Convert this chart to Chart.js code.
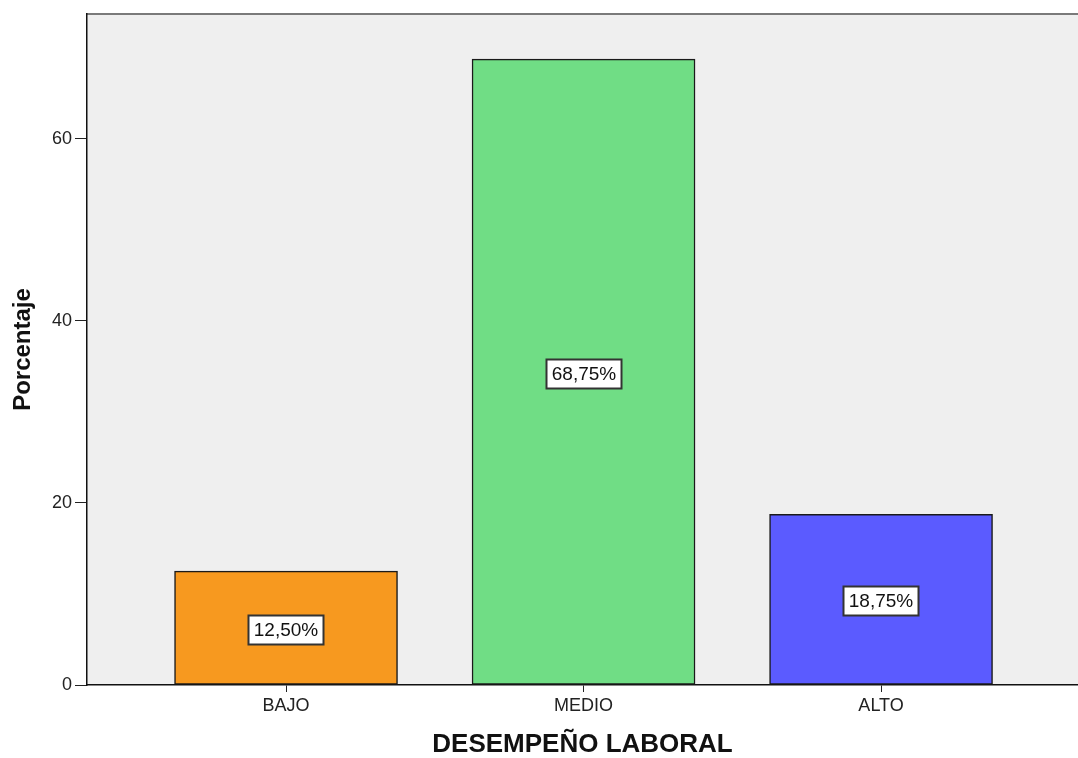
<!DOCTYPE html>
<html>
<head>
<meta charset="utf-8">
<script src="https://cdn.jsdelivr.net/npm/chart.js@4"></script>
<style>
  html, body { margin: 0; padding: 0; background: #fff; }
  #wrap { width: 1078px; height: 758px; }
</style>
</head>
<body>
<div id="wrap"><canvas id="myChart" width="1078" height="758"></canvas></div>
<script>
const categories = ["BAJO", "MEDIO", "ALTO"];
const percentages = [12.5, 68.75, 18.75];
const barColors = ["#F7991F", "#70DD85", "#5B5BFF"];
const yTicks = [0, 20, 40, 60];

const fontFamily = "'Liberation Sans', Arial, sans-serif";

// grey plot background and top frame line
const plotBackground = {
  id: "plotBackground",
  beforeDraw(chart) {
    const { ctx, chartArea } = chart;
    ctx.save();
    ctx.fillStyle = "#EFEFEF";
    ctx.fillRect(chartArea.left, chartArea.top, chartArea.right - chartArea.left, chartArea.bottom - chartArea.top);
    ctx.strokeStyle = "#7a7a7a";
    ctx.lineWidth = 2;
    ctx.beginPath();
    ctx.moveTo(chartArea.left, chartArea.top);
    ctx.lineTo(chartArea.right, chartArea.top);
    ctx.stroke();
    ctx.restore();
  },
};

// boxed percentage label in the middle of each bar
const barLabels = {
  id: "barLabels",
  afterDatasetsDraw(chart) {
    const { ctx } = chart;
    const meta = chart.getDatasetMeta(0);
    ctx.save();
    ctx.font = "19px " + fontFamily;
    ctx.textAlign = "center";
    ctx.textBaseline = "middle";
    meta.data.forEach(function (bar, i) {
      const text = percentages[i].toFixed(2).replace(".", ",") + "%";
      const cx = Math.round(bar.x);
      const cy = Math.round((bar.y + bar.base) / 2) + 2;
      const w = Math.ceil(ctx.measureText(text).width) + 10;
      const h = 29;
      ctx.fillStyle = "#fff";
      ctx.fillRect(cx - w / 2, cy - h / 2, w, h);
      ctx.strokeStyle = "#333";
      ctx.lineWidth = 2;
      ctx.strokeRect(cx - w / 2, cy - h / 2, w, h);
      ctx.fillStyle = "#111";
      ctx.fillText(text, cx, cy + 1);
    });
    ctx.restore();
  },
};

const data = {
  datasets: [
    {
      data: percentages.map((v, i) => ({ x: i + 1, y: v })),
      backgroundColor: barColors,
      borderColor: "#1a1a1a",
      borderWidth: 1.5,
      borderSkipped: false,
      barThickness: 223,
    },
  ],
};

const config = {
  type: "bar",
  data: data,
  options: {
    responsive: false,
    animation: false,
    layout: { padding: { top: 14, right: 0, left: 0, bottom: 0 } },
    plugins: {
      legend: { display: false },
      tooltip: { enabled: false },
    },
    scales: {
      x: {
        type: "linear",
        offset: false,
        min: 0.331,
        max: 3.662,
        afterBuildTicks: function (scale) {
          scale.ticks = categories.map((c, i) => ({ value: i + 1 }));
        },
        afterFit: function (scale) {
          scale.height = 73;
        },
        ticks: {
          callback: function (value) {
            return categories[value - 1];
          },
          color: "#222",
          font: { family: fontFamily, size: 18 },
          padding: 3,
          maxRotation: 0,
        },
        grid: {
          offset: false,
          drawOnChartArea: false,
          tickLength: 7,
          color: "#222",
        },
        border: { color: "#111", width: 1.5 },
        title: {
          display: true,
          text: "DESEMPEÑO LABORAL",
          color: "#111",
          font: { family: fontFamily, size: 26, weight: "bold", lineHeight: 1 },
          padding: { top: 4, bottom: 0 },
        },
      },
      y: {
        min: 0,
        max: 73.7,
        afterBuildTicks: function (scale) {
          scale.ticks = yTicks.map((v) => ({ value: v }));
        },
        afterFit: function (scale) {
          scale.width = 87;
        },
        ticks: {
          color: "#222",
          font: { family: fontFamily, size: 18 },
          padding: 3,
        },
        grid: {
          drawOnChartArea: false,
          tickLength: 12,
          color: "#222",
        },
        border: { color: "#111", width: 1.5 },
        title: {
          display: true,
          text: "Porcentaje",
          color: "#111",
          font: { family: fontFamily, size: 24, weight: "bold", lineHeight: 1 },
          padding: { top: 11, bottom: 0 },
        },
      },
    },
  },
  plugins: [plotBackground, barLabels],
};

const myChart = new Chart(document.getElementById("myChart"), config);
</script>
</body>
</html>
